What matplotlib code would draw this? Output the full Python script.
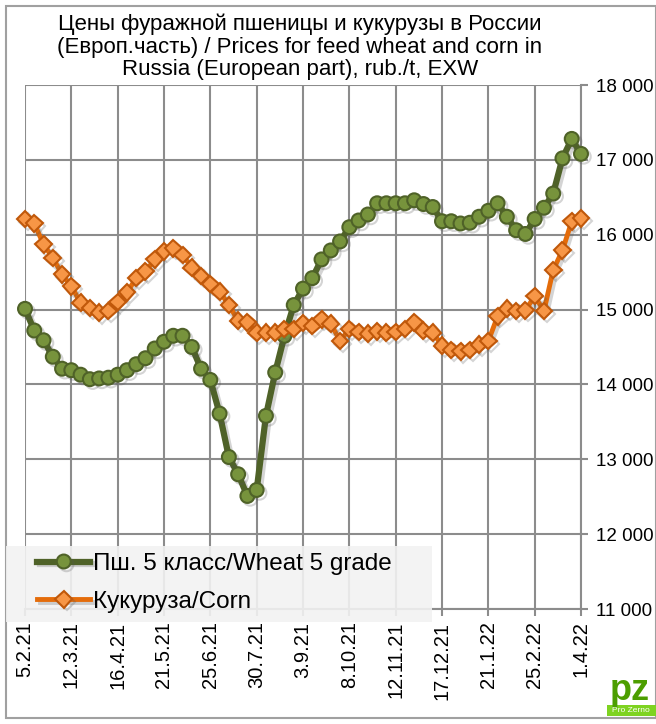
import matplotlib
matplotlib.use("Agg")
import matplotlib.pyplot as plt
import matplotlib.patheffects as pe
from matplotlib.patches import Rectangle
from matplotlib.ticker import FuncFormatter
import numpy as np

plt.rcParams['font.family'] = ['Liberation Sans', 'DejaVu Sans']

# недельные цены, руб./т
wheat = [15010, 14720, 14590, 14370, 14210, 14190, 14130, 14070, 14080, 14090,
         14130, 14190, 14270, 14350, 14480, 14570, 14650, 14650, 14500, 14210,
         14060, 13610, 13030, 12800, 12510, 12590, 13580, 14160, 14650, 15060,
         15280, 15420, 15670, 15790, 15910, 16100, 16190, 16270, 16420, 16420,
         16420, 16420, 16460, 16410, 16370, 16180, 16180, 16150, 16160, 16240,
         16320, 16420, 16240, 16060, 16010, 16210, 16360, 16550, 17020, 17280,
         17080]
corn = [16210, 16150, 15870, 15690, 15470, 15310, 15090, 15020, 14960, 14980,
        15100, 15230, 15420, 15510, 15670, 15780, 15820, 15730, 15560, 15450,
        15340, 15240, 15060, 14850, 14830, 14690, 14690, 14690, 14740, 14740,
        14820, 14780, 14870, 14810, 14580, 14740, 14700, 14680, 14710, 14690,
        14700, 14740, 14830, 14720, 14690, 14520, 14460, 14440, 14460, 14530,
        14580, 14910, 15010, 14980, 14990, 15180, 14980, 15530, 15790, 16180,
        16220]
# подписи оси X (каждые 5 недель)
tick_labels = ['5.2.21', '12.3.21', '16.4.21', '21.5.21', '25.6.21', '30.7.21',
               '3.9.21', '8.10.21', '12.11.21', '17.12.21', '21.1.22', '25.2.22',
               '1.4.22']
y_ticks = [11000, 12000, 13000, 14000, 15000, 16000, 17000, 18000]

weeks = np.arange(len(wheat))
W, H = 656, 724
fig = plt.figure(figsize=(W / 100, H / 100), dpi=100)
ax = fig.add_axes([25 / W, 1 - 609 / H, 556 / W, 524 / H])

grid_c = '#8c8c8c'
shadow = [pe.SimpleLineShadow(offset=(2, -2), alpha=0.25, shadow_color='#555555'), pe.Normal()]

ax.plot(weeks, wheat, color='#4f6228', lw=4.5, marker='o', ms=10,
        mfc='#77933c', mec='#4f6228', mew=1.5, zorder=3, clip_on=False,
        label='Пш. 5 класс/Wheat 5 grade', path_effects=shadow)
ax.plot(weeks, corn, color='#e46c0a', lw=3.5, marker='D', ms=8.5,
        mfc='#f79646', mec='#c0580a', mew=1.5, zorder=4, clip_on=False,
        label='Кукуруза/Corn', path_effects=shadow)

ax.set_xlim(0, len(wheat) - 1)
ax.set_ylim(11000, 18000)
ax.set_xticks(weeks[::5])
ax.set_xticklabels(tick_labels, rotation=90, fontsize=14.5)
ax.set_yticks(y_ticks)
ax.yaxis.set_major_formatter(FuncFormatter(lambda v, p: f"{int(v):,}".replace(',', ' ')))
ax.yaxis.tick_right()
ax.tick_params(axis='y', labelsize=13.5, length=5, width=1.5, color=grid_c, pad=6)
ax.tick_params(axis='x', length=5, width=1.5, color=grid_c, pad=4)
ax.grid(True, color=grid_c, lw=1.5)
ax.set_axisbelow(True)
for s in ['top', 'left']:
    ax.spines[s].set_visible(False)
for s in ['bottom', 'right']:
    ax.spines[s].set_color(grid_c)
    ax.spines[s].set_linewidth(1.5)

# заголовок
fig.text(300 / W, 1 - 47 / H,
         'Цены фуражной пшеницы и кукурузы в России\n(Европ.часть) / Prices for feed wheat and corn in\nRussia (European part), rub./t, EXW',
         ha='center', va='center', fontsize=16, linespacing=1.1,
         bbox=dict(facecolor='white', edgecolor='none', pad=2))

# подложка легенды
fig.add_artist(Rectangle((6 / W, 1 - 622 / H), 426 / W, 76 / H, transform=fig.transFigure,
                         facecolor='#f2f2f2', edgecolor='none', alpha=0.9, zorder=2))
fig.legend(loc='upper left', bbox_to_anchor=(37 / W, 1 - 553 / H), frameon=False,
           fontsize=17.5, handlelength=2.2, handletextpad=0.12, labelspacing=0.65,
           borderpad=0, borderaxespad=0)

# рамка
fig.add_artist(Rectangle((6 / W, 6 / H), (W - 6) / W, (H - 12) / H, transform=fig.transFigure,
                         facecolor='none', edgecolor='#a0a0a0', lw=1.5, zorder=1))

# логотип
fig.text(630 / W, 1 - 690 / H, 'pz', ha='center', va='center', fontsize=26,
         fontweight='bold', color='#4c9e00', zorder=4)
fig.add_artist(Rectangle((607 / W, 8 / H), 49 / W, 11 / H, transform=fig.transFigure,
                         facecolor='#7ed321', edgecolor='none', zorder=3))
fig.text(631 / W, 1 - 711 / H, 'Pro Zerno', ha='center', va='center', fontsize=6,
         color='white', zorder=4)

fig.savefig('out.png', dpi=100)
